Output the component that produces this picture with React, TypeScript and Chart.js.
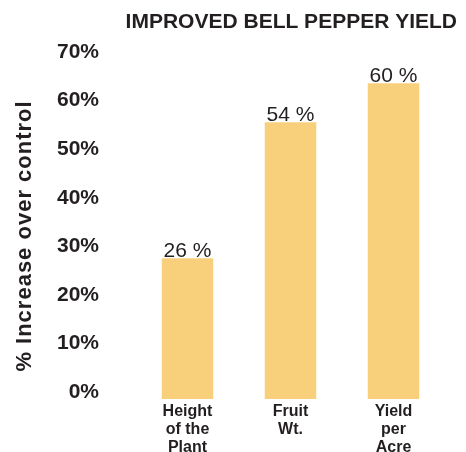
import React, { useEffect, useRef } from "react";
import { Chart, registerables } from "chart.js";

Chart.register(...registerables);

const categories: string[][] = [["Height", "of the", "Plant"], ["Fruit", "Wt."], ["Yield", "per", "Acre"]];
const barValues: number[] = [29, 57, 65];
const valueLabels: string[] = ["26 %", "54 %", "60 %"];
const yTicks: number[] = [0, 10, 20, 30, 40, 50, 60, 70];
const chartTitle = "IMPROVED BELL PEPPER YIELD";
const yTitle = "% Increase over control";

const TEXT = "#231f20";
const FONT = "'Liberation Sans', Arial, sans-serif";

const textPlugin = {
  id: "customText",
  afterDatasetsDraw(chart: any) {
    const ctx = chart.ctx;
    const meta = chart.getDatasetMeta(0);
    ctx.save();
    ctx.font = `21px ${FONT}`;
    ctx.fillStyle = TEXT;
    ctx.textAlign = "center";
    ctx.textBaseline = "alphabetic";
    meta.data.forEach((bar: any, i: number) => {
      ctx.fillText(valueLabels[i], bar.x, bar.y - 1);
    });
    ctx.restore();
  },
  afterDraw(chart: any) {
    const ctx = chart.ctx;
    ctx.save();
    ctx.fillStyle = TEXT;
    ctx.font = `bold 21px ${FONT}`;
    ctx.textAlign = "right";
    ctx.textBaseline = "middle";
    ctx.fillText(chartTitle, 457, 22);
    ctx.translate(25, 236);
    ctx.rotate(-Math.PI / 2);
    ctx.font = `bold 22px ${FONT}`;
    ctx.textAlign = "center";
    try {
      (ctx as any).letterSpacing = "1px";
    } catch (e) {}
    ctx.fillText(yTitle, 0, 0);
    ctx.restore();
  },
};

export default function App() {
  const ref = useRef<HTMLCanvasElement>(null);
  useEffect(() => {
    document.body.style.margin = "0";
    document.body.style.overflow = "hidden";
    const chart = new Chart(ref.current!, {
      type: "bar",
      data: {
        labels: categories,
        datasets: [
          {
            data: barValues,
            backgroundColor: "#f8d07c",
            borderWidth: 0,
            barPercentage: 0.5,
            categoryPercentage: 1,
          },
        ],
      },
      options: {
        responsive: false,
        animation: false,
        layout: { padding: { left: 0, right: 21, top: 59, bottom: 0 } },
        plugins: {
          legend: { display: false },
          tooltip: { enabled: false },
          title: { display: false },
        },
        scales: {
          x: {
            grid: { display: false, drawTicks: false },
            border: { display: false },
            ticks: {
              color: TEXT,
              font: { family: FONT, size: 16, weight: "bold", lineHeight: 1.125 },
              padding: 4,
              maxRotation: 0,
              autoSkip: false,
            },
            afterFit: (axis: any) => {
              axis.height = 53;
            },
          },
          y: {
            min: 0,
            max: 70,
            grid: { display: false, drawTicks: false },
            border: { display: false },
            afterBuildTicks: (axis: any) => {
              axis.ticks = yTicks.map((v) => ({ value: v }));
            },
            ticks: {
              color: TEXT,
              font: { family: FONT, size: 21, weight: "bold" },
              padding: 37,
              labelOffset: -7,
              callback: (v: any) => `${v}%`,
            },
            afterFit: (axis: any) => {
              axis.width = 136;
            },
          },
        },
      },
      plugins: [textPlugin],
    });
    return () => chart.destroy();
  }, []);
  return <canvas ref={ref} width={466} height={452} style={{ display: "block" }} />;
}
